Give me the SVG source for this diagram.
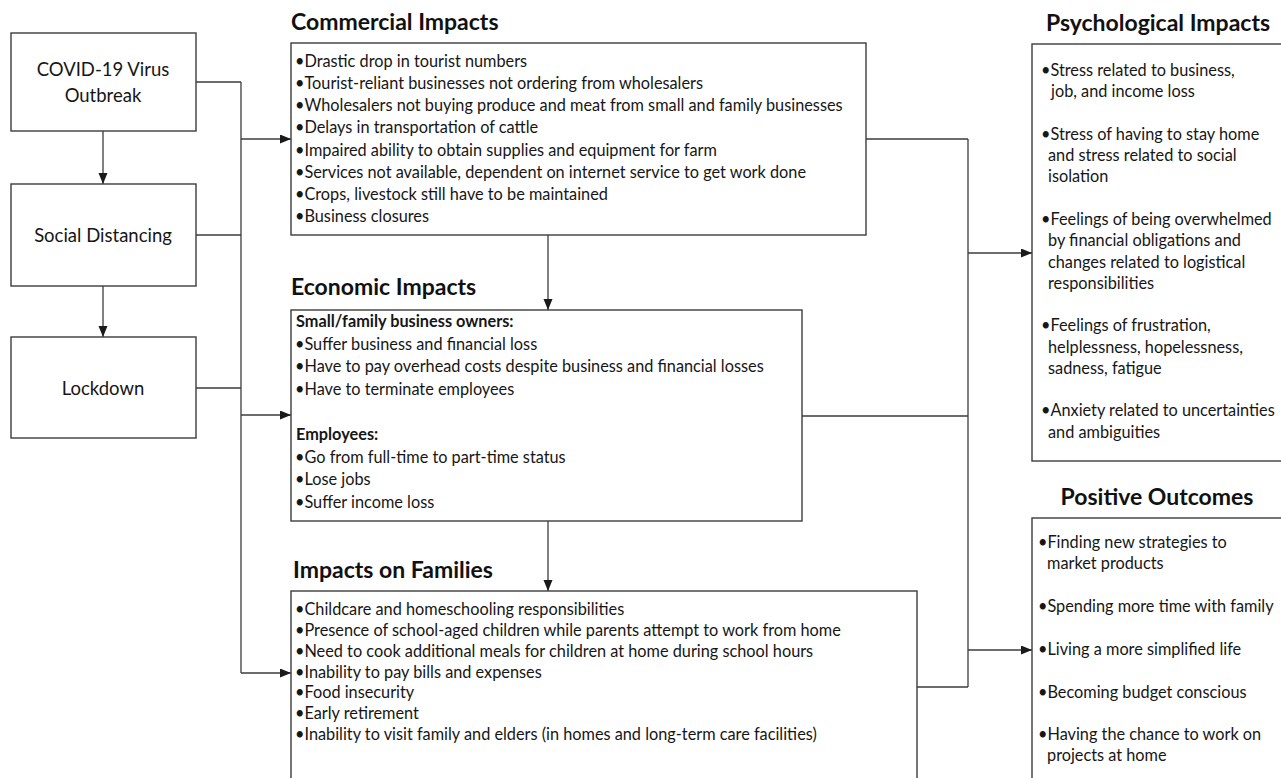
<svg xmlns="http://www.w3.org/2000/svg" width="1281" height="778" viewBox="0 0 1281 778">
<style>
.box{fill:#fff;stroke:#3c3c3c;stroke-width:1.4}
.ln{fill:none;stroke:#3c3c3c;stroke-width:1.3}
.t{font-family:Lato,"Liberation Sans",sans-serif;font-size:16.3px;fill:#161616}
.b{font-weight:bold}
.h{font-family:Lato,"Liberation Sans",sans-serif;font-size:23px;font-weight:bold;fill:#111}
.n{font-family:Lato,"Liberation Sans",sans-serif;font-size:18.5px;fill:#161616;text-anchor:middle}
</style>
<defs>
<marker id="ah" markerUnits="userSpaceOnUse" markerWidth="12" markerHeight="10" refX="11" refY="4.5" orient="auto">
<path d="M0,0 L11,4.5 L0,9 z" fill="#1a1a1a"/>
</marker>
</defs>
<rect width="1281" height="778" fill="#fff"/>

<g id="connectors">
<path class="ln" d="M103,131 V184" marker-end="url(#ah)"/>
<path class="ln" d="M103,286 V337" marker-end="url(#ah)"/>
<path class="ln" d="M196,82 H241 M196,235 H241 M196,388 H241 M241,82 V673"/>
<path class="ln" d="M241,139 H291" marker-end="url(#ah)"/>
<path class="ln" d="M241,415 H291" marker-end="url(#ah)"/>
<path class="ln" d="M241,673 H291" marker-end="url(#ah)"/>
<path class="ln" d="M548,235 V310" marker-end="url(#ah)"/>
<path class="ln" d="M548,521 V591" marker-end="url(#ah)"/>
<path class="ln" d="M866,139 H968 M802,416 H968 M917,687 H968 M968,139 V687"/>
<path class="ln" d="M968,253 H1032" marker-end="url(#ah)"/>
<path class="ln" d="M968,650 H1032" marker-end="url(#ah)"/>
</g>

<g id="covid">
<rect class="box" x="11" y="33" width="185" height="98"/>
<text class="n" x="103" y="76">COVID-19 Virus</text>
<text class="n" x="103" y="102">Outbreak</text>
</g>
<g id="social">
<rect class="box" x="11" y="184" width="185" height="102"/>
<text class="n" x="103" y="242">Social Distancing</text>
</g>
<g id="lockdown">
<rect class="box" x="11" y="337" width="185" height="101"/>
<text class="n" x="103" y="395">Lockdown</text>
</g>

<g id="commercial">
<text class="h" x="291" y="30">Commercial Impacts</text>
<rect class="box" x="291" y="43" width="575" height="192"/>
<text class="t" x="295" y="67">•Drastic drop in tourist numbers</text>
<text class="t" x="295" y="89">•Tourist-reliant businesses not ordering from wholesalers</text>
<text class="t" x="295" y="111">•Wholesalers not buying produce and meat from small and family businesses</text>
<text class="t" x="295" y="133">•Delays in transportation of cattle</text>
<text class="t" x="295" y="156">•Impaired ability to obtain supplies and equipment for farm</text>
<text class="t" x="295" y="178">•Services not available, dependent on internet service to get work done</text>
<text class="t" x="295" y="200">•Crops, livestock still have to be maintained</text>
<text class="t" x="295" y="222">•Business closures</text>
</g>

<g id="economic">
<text class="h" x="291" y="295">Economic Impacts</text>
<rect class="box" x="291" y="310" width="511" height="211"/>
<text class="t b" x="296" y="327">Small/family business owners:</text>
<text class="t" x="295" y="350">•Suffer business and financial loss</text>
<text class="t" x="295" y="372">•Have to pay overhead costs despite business and financial losses</text>
<text class="t" x="295" y="395">•Have to terminate employees</text>
<text class="t b" x="296" y="440">Employees:</text>
<text class="t" x="295" y="463">•Go from full-time to part-time status</text>
<text class="t" x="295" y="485">•Lose jobs</text>
<text class="t" x="295" y="508">•Suffer income loss</text>
</g>

<g id="families">
<text class="h" x="293" y="578">Impacts on Families</text>
<rect class="box" x="291" y="591" width="626" height="200"/>
<text class="t" x="295" y="615">•Childcare and homeschooling responsibilities</text>
<text class="t" x="295" y="636">•Presence of school-aged children while parents attempt to work from home</text>
<text class="t" x="295" y="657">•Need to cook additional meals for children at home during school hours</text>
<text class="t" x="295" y="678">•Inability to pay bills and expenses</text>
<text class="t" x="295" y="698">•Food insecurity</text>
<text class="t" x="295" y="719">•Early retirement</text>
<text class="t" x="295" y="740">•Inability to visit family and elders (in homes and long-term care facilities)</text>
</g>

<g id="psychological">
<text class="h" x="1158" y="31" text-anchor="middle">Psychological Impacts</text>
<rect class="box" x="1032" y="44" width="260" height="417"/>
<text class="t" x="1041" y="76">•Stress related to business,</text>
<text class="t" x="1051" y="97">job, and income loss</text>
<text class="t" x="1041" y="140">•Stress of having to stay home</text>
<text class="t" x="1048" y="161">and stress related to social</text>
<text class="t" x="1048" y="182">isolation</text>
<text class="t" x="1041" y="225">•Feelings of being overwhelmed</text>
<text class="t" x="1048" y="246">by financial obligations and</text>
<text class="t" x="1048" y="268">changes related to logistical</text>
<text class="t" x="1048" y="289">responsibilities</text>
<text class="t" x="1041" y="331">•Feelings of frustration,</text>
<text class="t" x="1048" y="353">helplessness, hopelessness,</text>
<text class="t" x="1048" y="374">sadness, fatigue</text>
<text class="t" x="1041" y="416">•Anxiety related to uncertainties</text>
<text class="t" x="1048" y="438">and ambiguities</text>
</g>

<g id="positive">
<text class="h" x="1157" y="505" text-anchor="middle">Positive Outcomes</text>
<rect class="box" x="1032" y="518" width="260" height="270"/>
<text class="t" x="1038" y="548">•Finding new strategies to</text>
<text class="t" x="1047" y="569">market products</text>
<text class="t" x="1038" y="612">•Spending more time with family</text>
<text class="t" x="1038" y="655">•Living a more simplified life</text>
<text class="t" x="1038" y="698">•Becoming budget conscious</text>
<text class="t" x="1038" y="740">•Having the chance to work on</text>
<text class="t" x="1047" y="761">projects at home</text>
</g>
</svg>
